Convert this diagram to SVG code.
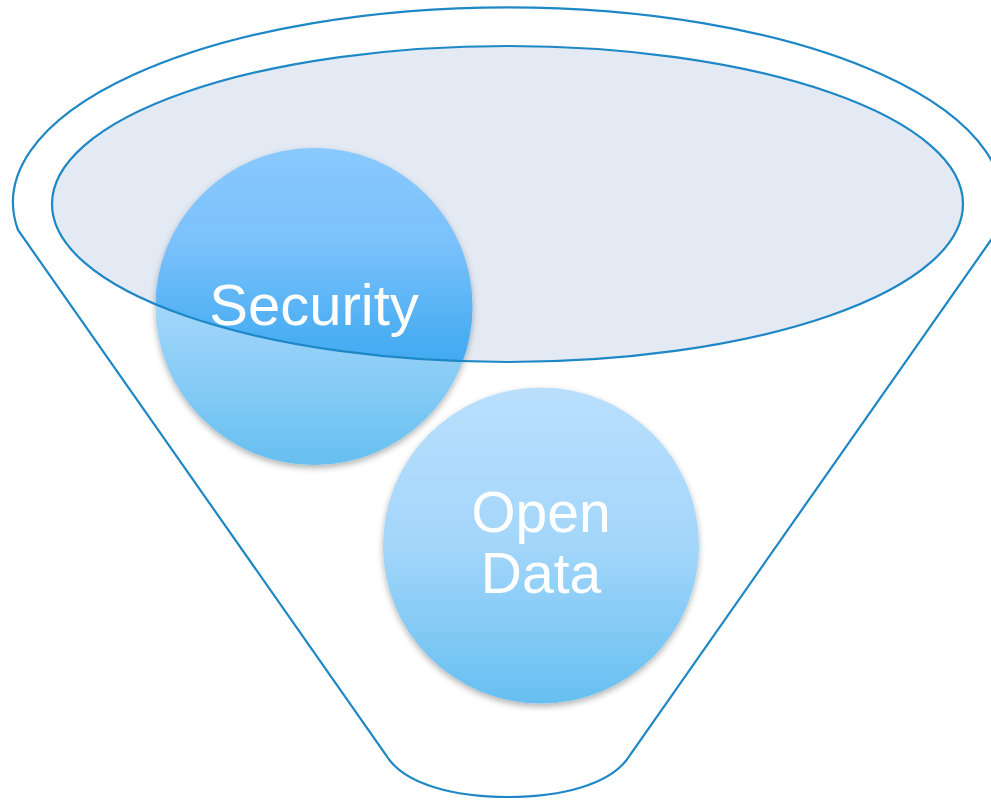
<svg xmlns="http://www.w3.org/2000/svg" width="991" height="801" viewBox="0 0 991 801">
  <style>
    .outline { fill: none; stroke: #1E87C6; stroke-width: 2.2; }
    .label { fill: #FFFFFF; font-family: "Liberation Sans", Arial, sans-serif; text-anchor: middle; }
  </style>
  <defs>
    <linearGradient id="gradLight" x1="0" y1="0" x2="0" y2="1">
      <stop offset="0" stop-color="#BADFFD"/>
      <stop offset="0.5" stop-color="#A3D6FA"/>
      <stop offset="1" stop-color="#66BFF0"/>
    </linearGradient>
    <linearGradient id="gradSec" gradientUnits="userSpaceOnUse" x1="0" y1="148" x2="0" y2="465">
      <stop offset="0" stop-color="#89C9FD"/>
      <stop offset="0.3" stop-color="#7AC1FB"/>
      <stop offset="0.6" stop-color="#4AAEF2"/>
      <stop offset="1" stop-color="#2A9AEC"/>
    </linearGradient>
    <linearGradient id="gradSecLow" gradientUnits="userSpaceOnUse" x1="0" y1="148" x2="0" y2="465">
      <stop offset="0" stop-color="#BADFFD"/>
      <stop offset="0.5" stop-color="#A3D6FA"/>
      <stop offset="1" stop-color="#66BFF0"/>
    </linearGradient>
    <clipPath id="innerClip">
      <ellipse cx="507.5" cy="204" rx="455.5" ry="158"/>
    </clipPath>
    <filter id="shadow" x="-20%" y="-20%" width="140%" height="140%">
      <feDropShadow dx="0" dy="3" stdDeviation="3" flood-color="#000000" flood-opacity="0.3"/>
    </filter>
  </defs>

  <g id="funnel">
    <path class="outline" d="M18,230 A495,195 0 1 1 998,230 L630,755 C612,785 560,797 508,797 C456,797 404,785 386,755 Z" style="fill:#FFFFFF"/>
    <ellipse id="funnel-top" cx="507.5" cy="204" rx="455.5" ry="158" fill="#E3EAF4"/>
  </g>

  <g id="node-security">
    <circle cx="314" cy="306.5" r="158.5" fill="url(#gradSecLow)" filter="url(#shadow)"/>
    <circle cx="314" cy="306.5" r="158.5" fill="url(#gradSec)" clip-path="url(#innerClip)"/>
    <text class="label" x="314" y="325" font-size="58">Security</text>
  </g>

  <ellipse id="funnel-rim" class="outline" cx="507.5" cy="204" rx="455.5" ry="158"/>

  <g id="node-open-data">
    <circle cx="541" cy="545.5" r="158" fill="url(#gradLight)" filter="url(#shadow)"/>
    <text class="label" x="541" y="532" font-size="57">Open</text>
    <text class="label" x="541" y="593" font-size="57">Data</text>
  </g>

  <g id="connectors"/>
</svg>
